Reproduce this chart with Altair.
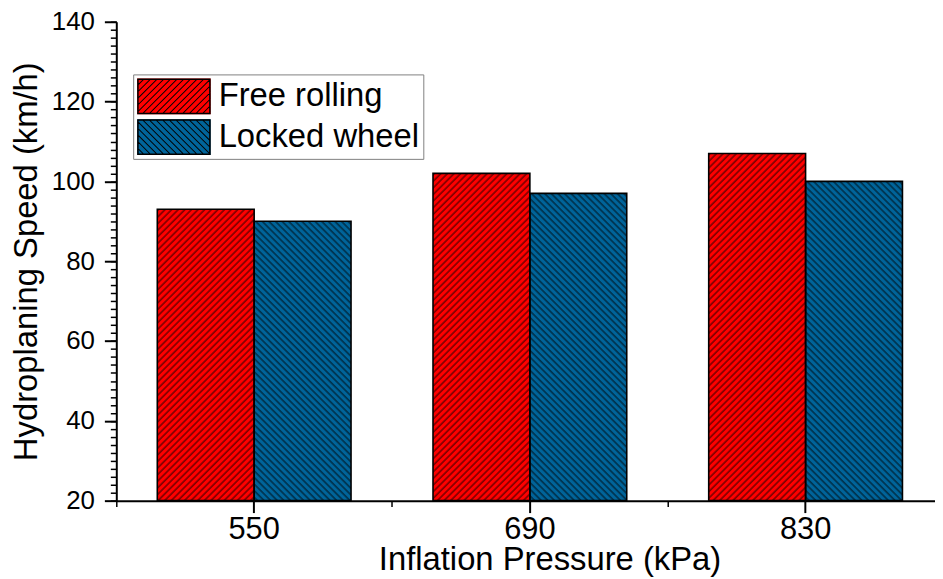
import base64
import altair as alt
import pandas as pd

# ---- data ----
PRESSURES = ["550", "690", "830"]
SERIES = ["Free rolling", "Locked wheel"]
FREE_ROLLING = [93, 102, 107]
LOCKED_WHEEL = [90, 97, 100]
Y_MAJOR_TICKS = [20, 40, 60, 80, 100, 120, 140]
Y_MINOR_TICKS = list(range(20, 141, 2))

rows = []
for p, f, l in zip(PRESSURES, FREE_ROLLING, LOCKED_WHEEL):
    rows.append({"pressure": p, "series": SERIES[0], "value": f})
    rows.append({"pressure": p, "series": SERIES[1], "value": l})
df = pd.DataFrame(rows)

# ---- styles ----
FONT = "Liberation Sans, Arial, sans-serif"
RED = "#FF0000"
BLUE = "#00649A"
SERIES_COLORS = {SERIES[0]: RED, SERIES[1]: BLUE}
SERIES_HATCH_ANGLE = {SERIES[0]: 45, SERIES[1]: -45}


def hatch_uri(angle):
    svg = (
        '<svg xmlns="http://www.w3.org/2000/svg" width="100%" height="100%">'
        '<defs><pattern id="h" patternUnits="userSpaceOnUse" width="4.7" height="10" '
        f'patternTransform="rotate({angle})">'
        '<line x1="1" y1="-5" x2="1" y2="15" stroke="#000" stroke-opacity="0.85" '
        'stroke-width="1"/>'
        '</pattern></defs><rect width="100%" height="100%" fill="url(#h)"/></svg>'
    )
    return "data:image/svg+xml;base64," + base64.b64encode(svg.encode()).decode()


# legend symbol geometry (unit = half symbol height)
XMIN, XMAX = -1.0, 3.11
RECT_PATH = f"M{XMIN},-1H{XMAX}V1H{XMIN}Z"


def clip_x(poly, xmin, xmax):
    def clip(points, inside, inter):
        out = []
        n = len(points)
        for i in range(n):
            cur, prev = points[i], points[i - 1]
            if inside(cur):
                if not inside(prev):
                    out.append(inter(prev, cur))
                out.append(cur)
            elif inside(prev):
                out.append(inter(prev, cur))
        return out

    def at_x(xv):
        def f(p, q):
            t = (xv - p[0]) / (q[0] - p[0])
            return (xv, p[1] + t * (q[1] - p[1]))
        return f

    poly = clip(poly, lambda p: p[0] >= xmin, at_x(xmin))
    if poly:
        poly = clip(poly, lambda p: p[0] <= xmax, at_x(xmax))
    return poly


def hatch_symbol_path(forward):
    t = 0.085  # outline thickness
    parts = [
        RECT_PATH,
        f"M{XMIN + t},{-1 + t}V{1 - t}H{XMAX - t}V{-1 + t}Z",
    ]
    w = 0.075  # hatch line thickness (horizontal)
    step = 0.372
    c = -3.0
    while c < XMAX:
        if forward:
            poly = [(c, 1), (c + 2, -1), (c + 2 + w, -1), (c + w, 1)]
        else:
            poly = [(c, -1), (c + w, -1), (c + 2 + w, 1), (c + 2, 1)]
        poly = clip_x(poly, XMIN, XMAX)
        if len(poly) >= 3:
            parts.append(
                "M" + "L".join(f"{x:.3f},{y:.3f}" for x, y in poly) + "Z"
            )
        c += step
    return "".join(parts)


HATCH_RED = hatch_symbol_path(True)
HATCH_BLUE = hatch_symbol_path(False)

x_scale = alt.Scale(range=[0, 832.5], paddingInner=0.2973, paddingOuter=0.1487)
xo_scale = alt.Scale(paddingInner=0, paddingOuter=0)
y_scale = alt.Scale(domain=[20, 140], nice=False, zero=False)
color_scale = alt.Scale(domain=SERIES, range=[RED, BLUE])
# the hatch overlay legend keeps its own (invisible-label) domain so that
# Vega-Lite does not merge it into the colour legend
HATCH_KEYS = [s + " " for s in SERIES]
shape_scale = alt.Scale(domain=HATCH_KEYS, range=[HATCH_RED, HATCH_BLUE])

x_major = alt.Axis(
    orient="bottom", labelAngle=0, tickSize=12, tickWidth=2, tickColor="black",
    domainWidth=2, domainColor="black", labelFont=FONT, labelFontSize=31,
    labelColor="black", labelPadding=2, grid=False,
    title="Inflation Pressure (kPa)", titleFont=FONT, titleFontSize=33,
    titleFontWeight="normal", titleColor="black", titleX=436, titleY=69,
    titleBaseline="alphabetic", titleAlign="center",
)
y_major = alt.Axis(
    orient="left", values=Y_MAJOR_TICKS, tickSize=12, tickWidth=2, tickColor="black",
    domainWidth=2, domainColor="black", labelFont=FONT, labelFontSize=26,
    labelColor="black", labelPadding=10, grid=False,
    title="Hydroplaning Speed (km/h)", titleFont=FONT, titleFontSize=33,
    titleFontWeight="normal", titleColor="black", titleX=-80, titleY=241,
    titleAngle=270, titleBaseline="alphabetic", titleAlign="center",
)
x_minor = alt.Axis(
    orient="bottom", bandPosition=-0.2115, labels=False, domain=False, tickSize=6,
    tickWidth=1.5, tickColor="black", grid=False, title=None,
)
y_minor = alt.Axis(
    orient="left", values=Y_MINOR_TICKS, labels=False, domain=False, tickSize=6,
    tickWidth=1.5, tickColor="black", grid=False, title=None,
)

LEGEND_COMMON = dict(
    orient="none", legendX=17, legendY=53, title=None, direction="vertical",
    symbolSize=1296, symbolOpacity=1, symbolStrokeWidth=0, labelFont=FONT,
    labelFontSize=33, labelOffset=46, rowPadding=5, padding=4, labelLimit=400,
)

base = alt.Chart(df)

# legend-only layers (no visible marks: every row filtered out)
legend_fill = base.transform_filter("false").mark_point(
    filled=True, opacity=1
).encode(
    color=alt.Color(
        "series:N", sort=SERIES, scale=color_scale,
        legend=alt.Legend(
            symbolType=RECT_PATH, labelColor="black",
            strokeColor="#808080", fillColor="white", **LEGEND_COMMON,
        ),
    ),
)
legend_hatch = base.transform_filter("false").mark_point(
    filled=True, opacity=1, color="black"
).encode(
    shape=alt.Shape(
        "series:N", scale=shape_scale,
        legend=alt.Legend(
            symbolFillColor="black", labelOpacity=0, labelColor="black",
            **LEGEND_COMMON,
        ),
    ),
)


def enc(layer, x_axis=None, y_axis=None):
    return layer.encode(
        x=alt.X("pressure:N", sort=PRESSURES, scale=x_scale, axis=x_axis),
        xOffset=alt.XOffset("series:N", sort=SERIES, scale=xo_scale),
        y=alt.Y("value:Q", scale=y_scale, axis=y_axis),
        y2=alt.datum(20),
    )


layers = [legend_fill, legend_hatch]
for i, s in enumerate(SERIES):
    sub = base.transform_filter(alt.datum.series == s)
    layers.append(
        enc(sub.mark_bar(color=SERIES_COLORS[s]),
            x_major if i == 0 else None, y_major if i == 0 else None)
    )
for i, s in enumerate(SERIES):
    sub = base.transform_filter(alt.datum.series == s)
    layers.append(
        enc(sub.mark_image(aspect=False),
            x_minor if i == 0 else None, y_minor if i == 0 else None)
        .encode(url=alt.value(hatch_uri(SERIES_HATCH_ANGLE[s])))
    )
layers.append(enc(base.mark_bar(fillOpacity=0, stroke="black", strokeWidth=1.6)))

chart = (
    alt.layer(*layers)
    .resolve_axis(x="independent", y="independent")
    .properties(
        width=824, height=482,
        autosize=alt.AutoSizeParams(type="none"),
        padding={"left": 109, "top": 12, "right": 0, "bottom": 77},
        background="white",
    )
    .configure_view(stroke=None)
)

chart.save("out.html", embed_options={"renderer": "svg", "actions": False})
